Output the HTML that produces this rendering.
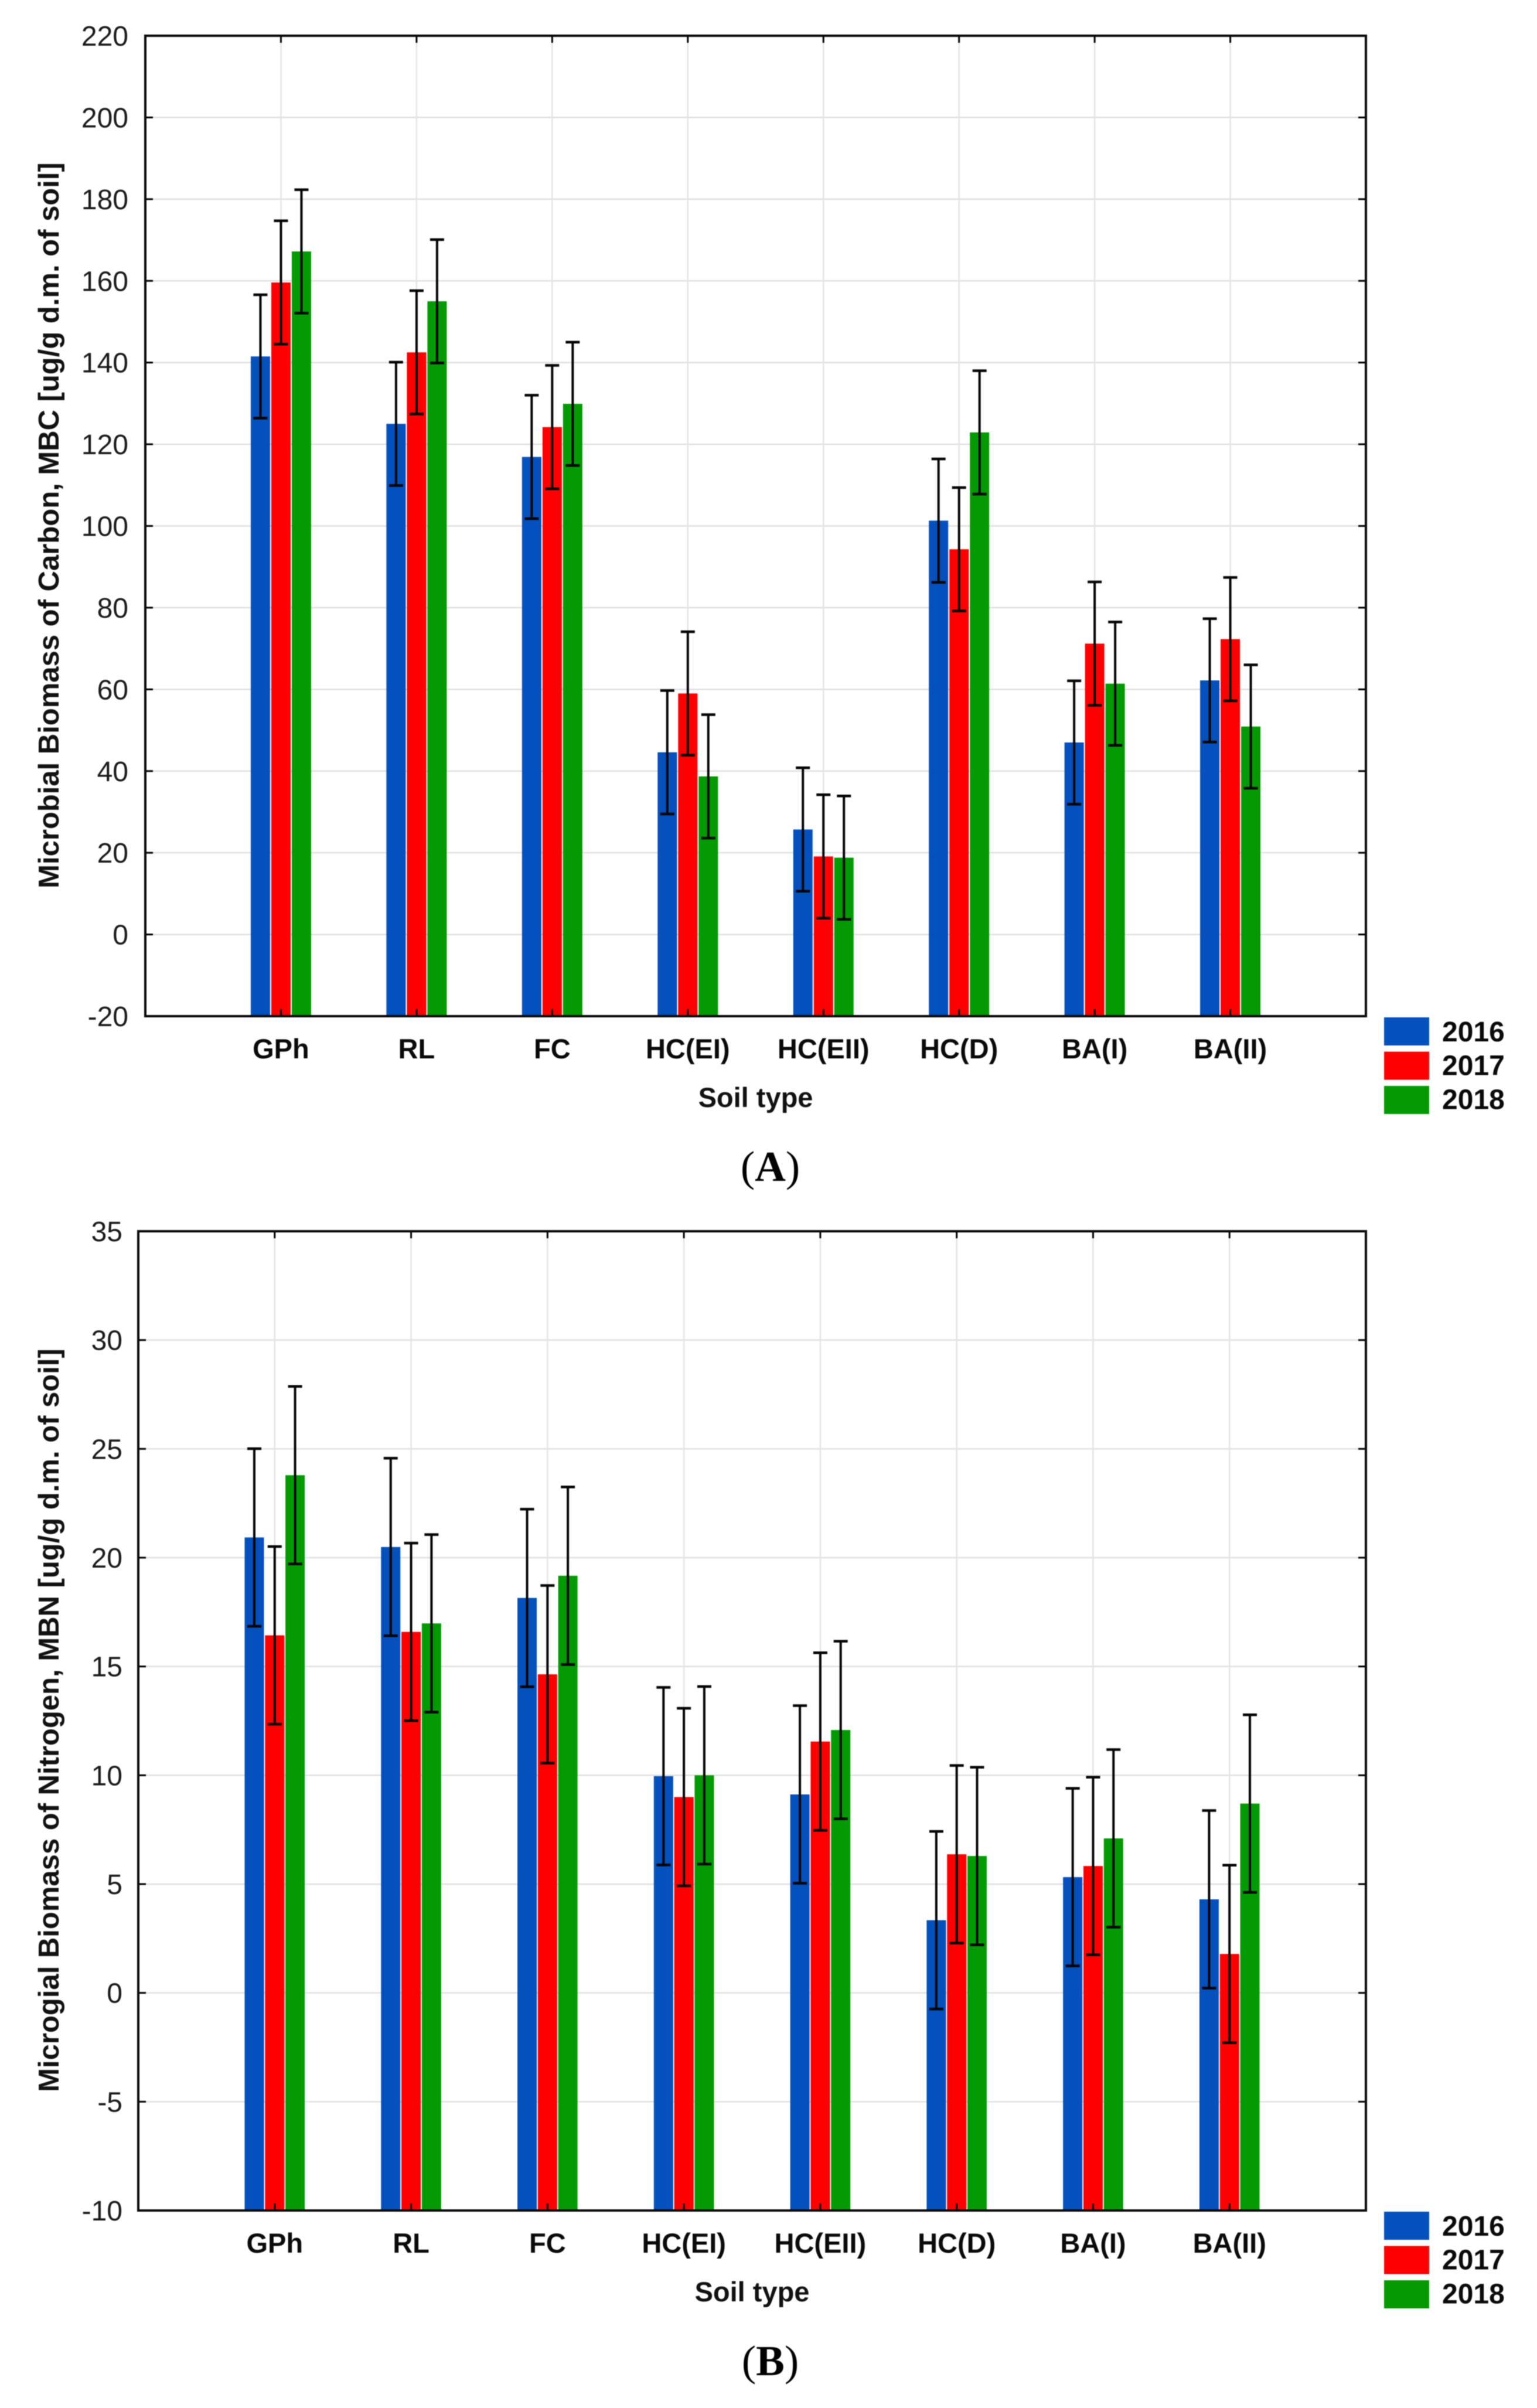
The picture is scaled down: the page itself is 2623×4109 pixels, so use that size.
<!DOCTYPE html>
<html lang="en">
<head>
<meta charset="utf-8">
<title>Microbial biomass of carbon and nitrogen by soil type</title>
<style>
  html, body { margin: 0; padding: 0; background: #fff; }
  body { width: 2623px; height: 4109px; overflow: hidden; }
  svg { display: block; font-family: "Liberation Sans", Arial, sans-serif; filter: blur(0.8px); }
</style>
</head>
<body>
<svg id="fig" xmlns="http://www.w3.org/2000/svg" width="2623" height="4109" viewBox="0 0 2623 4109">
  <rect x="0" y="0" width="2623" height="4109" fill="#fff"/>
</svg>
<script>
const categories = ["GPh", "RL", "FC", "HC(EI)", "HC(EII)", "HC(D)", "BA(I)", "BA(II)"];
const years = ["2016", "2017", "2018"];

const mbc2016 = [141.5, 125.0, 116.9, 44.6, 25.7, 101.3, 47.0, 62.2];
const mbc2017 = [159.6, 142.5, 124.2, 59.0, 19.1, 94.3, 71.2, 72.3];
const mbc2018 = [167.2, 155.0, 129.9, 38.7, 18.8, 122.9, 61.4, 50.9];
const mbcError = [15.1, 15.1, 15.1, 15.1, 15.1, 15.1, 15.1, 15.1];
const mbcTicks = [-20, 0, 20, 40, 60, 80, 100, 120, 140, 160, 180, 200, 220];

const mbn2016 = [20.93, 20.49, 18.15, 9.96, 9.12, 3.34, 5.32, 4.30];
const mbn2017 = [16.43, 16.59, 14.64, 9.00, 11.55, 6.37, 5.83, 1.79];
const mbn2018 = [23.79, 16.98, 19.17, 10.00, 12.08, 6.29, 7.10, 8.70];
const mbnError = [4.08, 4.08, 4.08, 4.08, 4.08, 4.08, 4.08, 4.08];
const mbnTicks = [-10, -5, 0, 5, 10, 15, 20, 25, 30, 35];

const colors = ["#0450bc", "#ff0000", "#039a03"];
const svg = document.getElementById("fig");
const NS = "http://www.w3.org/2000/svg";

function add(parent, tag, attrs, text) {
  const el = document.createElementNS(NS, tag);
  for (const k in attrs) el.setAttribute(k, attrs[k]);
  if (text !== undefined) el.textContent = text;
  parent.appendChild(el);
  return el;
}

function drawChart(o) {
  const g = add(svg, "g", {});
  
  

  const x = i => o.left + (o.right - o.left) * (i + 1) / (categories.length + 1);
  const y = v => o.bottom - (v - o.ticks[0]) * (o.bottom - o.top) / (o.ticks[o.ticks.length - 1] - o.ticks[0]);

  // gridlines
  o.ticks.forEach(t => {
    if (t === o.ticks[0] || t === o.ticks[o.ticks.length - 1]) return;
    const line = add(g, "line", { x1: o.left, x2: o.right, y1: y(t), y2: y(t), stroke: "#e0e0e0", "stroke-width": 2.5 });
    
    
  });
  categories.forEach((c, i) => {
    const line = add(g, "line", { x1: x(i), x2: x(i), y1: o.top, y2: o.bottom, stroke: "#e4e4e4", "stroke-width": 2.5 });
    
    
  });

  // bars
  const barW = 33;
  o.series.forEach((vals, s) => {
    vals.forEach((v, i) => {
      const cx = x(i) + (s - 1) * o.step;
      const bar = add(g, "rect", { x: cx - barW / 2, y: y(v), width: barW, height: o.bottom - y(v), fill: colors[s] });
      
      
    });
  });

  // error bars
  o.series.forEach((vals, s) => {
    vals.forEach((v, i) => {
      const cx = x(i) + (s - 1) * o.step;
      const hi = y(v + o.err[i]);
      const lo = y(v - o.err[i]);
      const eg = add(g, "g", { stroke: "#050505", fill: "none" });
      
      
      add(eg, "line", { x1: cx, x2: cx, y1: hi, y2: lo, "stroke-width": 4 });
      add(eg, "line", { x1: cx - 12, x2: cx + 12, y1: hi, y2: hi, "stroke-width": 4.5 });
      add(eg, "line", { x1: cx - 12, x2: cx + 12, y1: lo, y2: lo, "stroke-width": 4.5 });
    });
  });

  // axis ticks
  o.ticks.forEach(t => {
    const tg = add(g, "g", { stroke: "#000", "stroke-width": 3 });
    
    
    add(tg, "line", { x1: o.left, x2: o.left + 13, y1: y(t), y2: y(t) });
    add(tg, "line", { x1: o.right - 13, x2: o.right, y1: y(t), y2: y(t) });
  });
  categories.forEach((c, i) => {
    const tg = add(g, "g", { stroke: "#000", "stroke-width": 3 });
    
    
    add(tg, "line", { x1: x(i), x2: x(i), y1: o.top, y2: o.top + 12 });
    add(tg, "line", { x1: x(i), x2: x(i), y1: o.bottom - 12, y2: o.bottom });
  });

  // frame
  const frame = add(g, "rect", { x: o.left, y: o.top, width: o.right - o.left, height: o.bottom - o.top, fill: "none", stroke: "#0a0a0a", "stroke-width": 4 });
  
  

  // y tick labels
  o.ticks.forEach(t => {
    const lab = add(g, "text", { x: o.tickX, y: y(t) + 17, "text-anchor": "end", "font-size": 48, fill: "#1a1a1a" }, String(t));
    
    
  });

  // category labels
  categories.forEach((c, i) => {
    const lab = add(g, "text", { x: x(i), y: o.bottom + 72, "text-anchor": "middle", "font-size": 47, "font-weight": "bold", fill: "#0a0a0a" }, c);
    
    
  });

  // axis titles
  const xt = add(g, "text", { x: (o.left + o.right) / 2, y: o.bottom + 155, "text-anchor": "middle", "font-size": 47, "font-weight": "bold", fill: "#111" }, "Soil type");
  
  

  const cy = (o.top + o.bottom) / 2 - 1;
  const yt = add(g, "text", { x: 0, y: 0, transform: "translate(100 " + cy + ") rotate(-90)", "text-anchor": "middle", "font-size": 49, "font-weight": "bold", fill: "#111" }, o.yTitle);
  
  

  // legend
  years.forEach((yr, s) => {
    const lg = add(g, "g", {});
    
    
    add(lg, "rect", { x: 2362, y: o.bottom + 2 + s * 58.5, width: 77, height: 48, fill: colors[s] });
    add(lg, "text", { x: 2461, y: o.bottom + 43 + s * 57.7, "font-size": 48, "font-weight": "bold", fill: "#0a0a0a" }, yr);
  });

  // panel caption
  const cap = add(g, "text", { x: 1314.5, y: o.capY, "text-anchor": "middle", "font-size": 73, fill: "#000", style: 'font-family:"Liberation Serif",serif' });
  
  
  add(cap, "tspan", {}, "(");
  add(cap, "tspan", { "font-weight": "bold" }, o.capLetter);
  add(cap, "tspan", {}, ")");
}

drawChart({
  id: "mbc", left: 248, right: 2331, top: 61, bottom: 1734, step: 35,
  ticks: mbcTicks, series: [mbc2016, mbc2017, mbc2018], err: mbcError, tickX: 219,
  yTitle: "Microbial Biomass of Carbon, MBC [ug/g d.m. of soil]",
  capLetter: "A", capY: 2015
});

drawChart({
  id: "mbn", left: 236, right: 2331, top: 2101, bottom: 3772, step: 34.8,
  ticks: mbnTicks, series: [mbn2016, mbn2017, mbn2018], err: mbnError, tickX: 209,
  yTitle: "Microgial Biomass of Nitrogen, MBN [ug/g d.m. of soil]",
  capLetter: "B", capY: 4053
});
</script>
</body>
</html>
